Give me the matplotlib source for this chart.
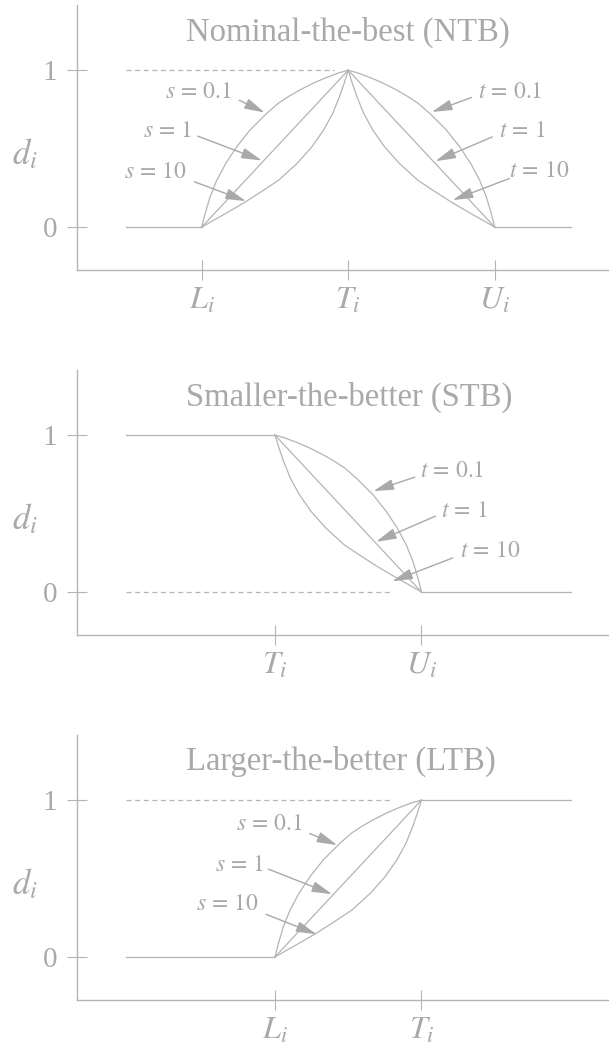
import matplotlib
matplotlib.use("Agg")
import matplotlib.pyplot as plt

plt.rcParams['font.family'] = ['Liberation Serif', 'DejaVu Serif']
plt.rcParams['mathtext.fontset'] = 'stix'
plt.rcParams['lines.scale_dashes'] = False

GRAY = '#b4b4b4'
TXT = '#a9a9a9'

# shapes, u = fraction of the way along the ramp
rise_u_s01 = [0, 0.023, 0.057, 0.103, 0.164, 0.240, 0.331, 0.445, 0.525, 0.594,
              0.674, 0.765, 0.845, 0.936, 1]
rise_d_s01 = [0, 0.085, 0.192, 0.299, 0.406, 0.513, 0.620, 0.726, 0.791, 0.833,
              0.876, 0.919, 0.951, 0.983, 1]
rise_u_s1 = [0, 1]
rise_d_s1 = [0, 1]
rise_u_s10 = [0, 0.080, 0.160, 0.297, 0.422, 0.525, 0.651, 0.753, 0.833, 0.895,
              0.941, 0.973, 1]
rise_d_s10 = [0, 0.043, 0.085, 0.160, 0.235, 0.299, 0.406, 0.513, 0.620, 0.726,
              0.833, 0.919, 1]

fall_u_t01 = [0, 0.064, 0.155, 0.235, 0.326, 0.406, 0.475, 0.555, 0.669, 0.760,
              0.836, 0.897, 0.943, 0.977, 1]
fall_d_t01 = [1, 0.983, 0.951, 0.919, 0.876, 0.833, 0.791, 0.726, 0.620, 0.513,
              0.406, 0.299, 0.192, 0.085, 0]
fall_u_t1 = [0, 1]
fall_d_t1 = [1, 0]
fall_u_t10 = [0, 0.027, 0.059, 0.105, 0.167, 0.247, 0.349, 0.475, 0.578, 0.703,
              0.840, 0.920, 1]
fall_d_t10 = [1, 0.919, 0.833, 0.726, 0.620, 0.513, 0.406, 0.299, 0.235, 0.160,
              0.085, 0.043, 0]

rise_curves = [(rise_u_s01, rise_d_s01), (rise_u_s1, rise_d_s1), (rise_u_s10, rise_d_s10)]
fall_curves = [(fall_u_t01, fall_d_t01), (fall_u_t1, fall_d_t1), (fall_u_t10, fall_d_t10)]

s_labels = [r'$s\,=\,0.1$', r'$s\,=\,1$', r'$s\,=\,10$']
t_labels = [r'$t\,=\,0.1$', r'$t\,=\,1$', r'$t\,=\,10$']

titles = ['Nominal-the-best (NTB)', 'Smaller-the-better (STB)', 'Larger-the-better (LTB)']
ntb_ticks = [0, 1, 2]
ntb_labels = [r'$L_i$', r'$T_i$', r'$U_i$']
stb_ticks = [0.5, 1.5]
stb_labels = [r'$T_i$', r'$U_i$']
ltb_ticks = [0.5, 1.5]
ltb_labels = [r'$L_i$', r'$T_i$']
x_start, x_end = -0.517, 2.52

fig = plt.figure(figsize=(6.09, 10.47), dpi=100)
bottoms = [0.742, 0.3935, 0.0449]
axes = [fig.add_axes([0.126, b, 0.874, 0.253]) for b in bottoms]


def style_axis(ax, ticks, labels, title):
    ax.set_xlim(-0.853, 2.78)
    ax.set_ylim(-0.274, 1.414)
    for side in ['top', 'right']:
        ax.spines[side].set_visible(False)
    for side in ['left', 'bottom']:
        ax.spines[side].set_color(GRAY)
        ax.spines[side].set_linewidth(1.0)
    ax.set_xticks(ticks)
    ax.set_xticklabels(labels, fontsize=23, color=TXT)
    ax.set_yticks([0, 1])
    ax.set_yticklabels(['0', '1'], fontsize=21, color=TXT)
    ax.tick_params(direction='inout', length=14.4, width=0.8, color=GRAY)
    ax.tick_params(axis='y', pad=7)
    ax.tick_params(axis='x', pad=5)
    ax.text(-1.206, 0.46, r'$d_i$', fontsize=25, color=TXT, ha='center', va='center')
    ax.text(-0.11, 1.19, title, fontsize=23.5, color=TXT, ha='left', va='baseline')


def ramp(ax, curves, x0, x1):
    for u, d in curves:
        ax.plot([x0 + v * (x1 - x0) for v in u], d, color=GRAY, lw=0.9,
                solid_joinstyle='round')


def note(ax, label, xy_text, ha, tail, tip):
    ax.text(xy_text[0], xy_text[1], label, fontsize=17, color=TXT, ha=ha, va='center')
    ax.annotate('', xy=tip, xytext=tail,
                arrowprops=dict(arrowstyle='-|>,head_length=0.8,head_width=0.21',
                                color=TXT, lw=1.0, shrinkA=0, shrinkB=0,
                                mutation_scale=15.5))


dash = (0, (3.6, 2.6))

# NTB
ax = axes[0]
style_axis(ax, ntb_ticks, ntb_labels, titles[0])
ax.plot([x_start, 0.9], [1, 1], color=GRAY, lw=0.9, ls=dash)
ax.plot([x_start, ntb_ticks[0]], [0, 0], color=GRAY, lw=0.9)
ax.plot([ntb_ticks[2], x_end], [0, 0], color=GRAY, lw=0.9)
ramp(ax, rise_curves, ntb_ticks[0], ntb_ticks[1])
ramp(ax, fall_curves, ntb_ticks[1], ntb_ticks[2])
note(ax, s_labels[0], (0.207, 0.86), 'right', (0.255, 0.809), (0.43, 0.73))
note(ax, s_labels[1], (-0.062, 0.611), 'right', (-0.027, 0.58), (0.41, 0.425))
note(ax, s_labels[2], (-0.098, 0.35), 'right', (-0.05, 0.289), (0.302, 0.166))
note(ax, t_labels[0], (1.889, 0.86), 'left', (1.842, 0.826), (1.571, 0.734))
note(ax, t_labels[1], (2.03, 0.607), 'left', (1.983, 0.575), (1.595, 0.42))
note(ax, t_labels[2], (2.10, 0.352), 'left', (2.10, 0.31), (1.713, 0.172))

# STB
ax = axes[1]
style_axis(ax, stb_ticks, stb_labels, titles[1])
ax.plot([x_start, 1.30], [0, 0], color=GRAY, lw=0.9, ls=dash)
ax.plot([x_start, stb_ticks[0]], [1, 1], color=GRAY, lw=0.9)
ax.plot([stb_ticks[1], x_end], [0, 0], color=GRAY, lw=0.9)
ramp(ax, fall_curves, stb_ticks[0], stb_ticks[1])
note(ax, t_labels[0], (1.489, 0.77), 'left', (1.454, 0.732), (1.172, 0.643))
note(ax, t_labels[1], (1.63, 0.515), 'left', (1.595, 0.483), (1.19, 0.32))
note(ax, t_labels[2], (1.76, 0.26), 'left', (1.713, 0.217), (1.30, 0.068))

# LTB
ax = axes[2]
style_axis(ax, ltb_ticks, ltb_labels, titles[2])
ax.plot([x_start, 1.30], [1, 1], color=GRAY, lw=0.9, ls=dash)
ax.plot([x_start, ltb_ticks[0]], [0, 0], color=GRAY, lw=0.9)
ax.plot([ltb_ticks[1], x_end], [1, 1], color=GRAY, lw=0.9)
ramp(ax, rise_curves, ltb_ticks[0], ltb_ticks[1])
note(ax, s_labels[0], (0.69, 0.847), 'right', (0.737, 0.787), (0.925, 0.713))
note(ax, s_labels[1], (0.425, 0.58), 'right', (0.455, 0.56), (0.89, 0.40))
note(ax, s_labels[2], (0.391, 0.336), 'right', (0.439, 0.272), (0.784, 0.145))

fig.savefig('out.png', dpi=100)
plt.close(fig)
